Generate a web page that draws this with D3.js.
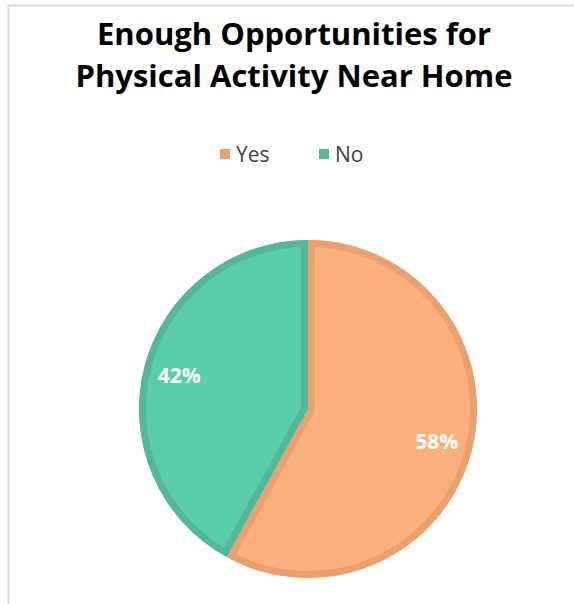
<!DOCTYPE html>
<html>
<head>
<meta charset="utf-8">
<script src="https://cdn.jsdelivr.net/npm/d3@7"></script>
<style>
  html, body { margin: 0; padding: 0; background: #fff; }
  svg { display: block; }
</style>
</head>
<body>
<svg id="chart" width="574" height="604"></svg>
<script>
// Survey answers and their shares (percent)
const categories = ["Yes", "No"];
const shares = [58, 42];
const fillColors = ["#FDB07B", "#5BCDAD"];
const edgeColors = ["#E9A171", "#53B899"];
const titleLines = ["Enough Opportunities for", "Physical Activity Near Home"];

const W = 574, H = 604;
const FONT = "'Open Sans', 'DejaVu Sans', sans-serif";
const svg = d3.select("#chart");

// chart area frame
svg.append("rect")
  .attr("x", 8.5).attr("y", 5.5)
  .attr("width", W + 10).attr("height", H + 10)
  .attr("fill", "#fff")
  .attr("stroke", "#d9d9d9")
  .attr("stroke-width", 2);

// title
const title = svg.append("text")
  .attr("text-anchor", "middle")
  .attr("font-family", FONT)
  .attr("font-weight", 700)
  .attr("font-size", 31)
  .attr("fill", "#000");
titleLines.forEach((line, i) => {
  title.append("tspan")
    .attr("x", 294)
    .attr("y", 45 + i * 42)
    .text(line);
});

// legend
const legendX = [220, 319];
const legend = svg.append("g").attr("font-family", FONT);
categories.forEach((c, i) => {
  legend.append("rect")
    .attr("x", legendX[i]).attr("y", 149)
    .attr("width", 10).attr("height", 10)
    .attr("fill", edgeColors[i]);
  legend.append("text")
    .attr("x", legendX[i] + 16).attr("y", 162)
    .attr("font-size", 21)
    .attr("fill", "#404040")
    .text(c);
});

// pie
const cx = 308, cy = 409, R = 169, inset = 7;
const pie = d3.pie().sort(null).value(d => d.value);
const arcs = pie(categories.map((c, i) => ({ name: c, value: shares[i], i })));
const arcGen = d3.arc().innerRadius(0).outerRadius(R);
const labelArc = d3.arc().innerRadius(133).outerRadius(133);

const defs = svg.append("defs");
const g = svg.append("g").attr("transform", `translate(${cx},${cy})`);

arcs.forEach((a, k) => {
  const id = "slice-clip-" + k;
  defs.append("clipPath").attr("id", id)
    .append("path").attr("d", arcGen(a));
  // border drawn at double width and clipped to the slice, so it sits inside
  g.append("g")
    .attr("clip-path", `url(#${id})`)
    .append("path")
    .attr("d", arcGen(a))
    .attr("fill", fillColors[a.data.i])
    .attr("stroke", edgeColors[a.data.i])
    .attr("stroke-width", inset * 2)
    .attr("stroke-linejoin", "miter");
});

// value labels
arcs.forEach(a => {
  const [x, y] = labelArc.centroid(a);
  g.append("text")
    .attr("x", x).attr("y", y)
    .attr("dy", "0.35em")
    .attr("text-anchor", "middle")
    .attr("font-family", FONT)
    .attr("font-weight", 700)
    .attr("font-size", 21)
    .attr("fill", "#fff")
    .text(a.data.value + "%");
});
</script>
</body>
</html>
